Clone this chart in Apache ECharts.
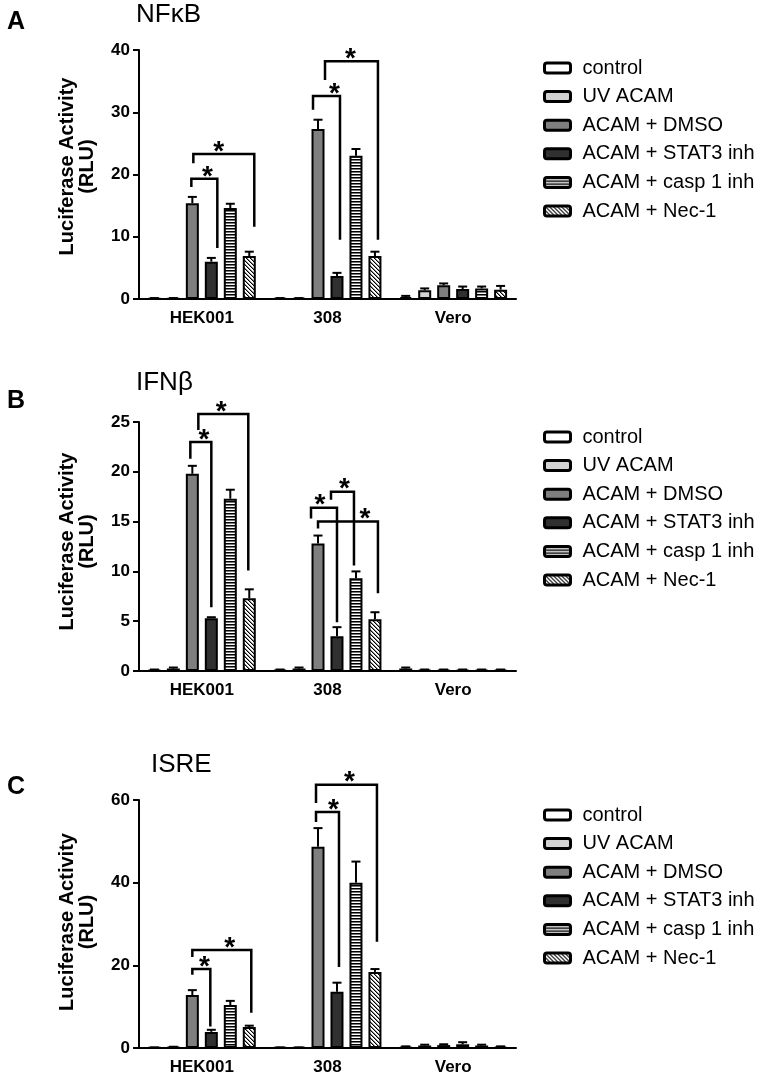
<!DOCTYPE html>
<html><head><meta charset="utf-8">
<script src="https://cdn.jsdelivr.net/npm/echarts@6/dist/echarts.min.js"></script>
<style>html,body{margin:0;padding:0;background:#fff}#chart{width:767px;height:1079px}</style>
</head><body><div id="chart"></div>
<script>
// ---------------- DATA ----------------
const categories = ['HEK001', '308', 'Vero'];
const groupNames = ['control', 'UV ACAM', 'ACAM + DMSO', 'ACAM + STAT3 inh', 'ACAM + casp 1 inh', 'ACAM + Nec-1'];
const panelTitles = ['NFκB', 'IFNβ', 'ISRE'];
const panelLetters = ['A', 'B', 'C'];
const yAxisName = 'Luciferase Activity\n(RLU)';
const yMax = [40, 25, 60];
const yStep = [10, 5, 20];

// means: one row per group, columns = categories
const nfkbMean = [
  [0.1, 0.1, 0.3],
  [0.1, 0.1, 1.4],
  [15.4, 27.3, 2.2],
  [6.0, 3.7, 1.6],
  [14.6, 23.0, 1.7],
  [6.9, 6.9, 1.5]
];
const nfkbErr = [
  [0.05, 0.05, 0.2],
  [0.05, 0.05, 0.3],
  [1.0, 1.5, 0.3],
  [0.6, 0.5, 0.4],
  [0.7, 1.1, 0.3],
  [0.7, 0.7, 0.6]
];
const ifnbMean = [
  [0.1, 0.1, 0.25],
  [0.25, 0.25, 0.1],
  [19.8, 12.8, 0.1],
  [5.3, 3.5, 0.1],
  [17.3, 9.3, 0.1],
  [7.3, 5.2, 0.1]
];
const ifnbErr = [
  [0.05, 0.05, 0.1],
  [0.1, 0.1, 0.05],
  [0.8, 0.8, 0.05],
  [0.1, 0.9, 0.05],
  [0.9, 0.7, 0.05],
  [0.9, 0.7, 0.05]
];
const isreMean = [
  [0.1, 0.1, 0.3],
  [0.2, 0.1, 0.6],
  [12.8, 48.7, 0.7],
  [3.9, 13.6, 0.9],
  [10.4, 40.0, 0.6],
  [5.1, 18.4, 0.3]
];
const isreErr = [
  [0.05, 0.05, 0.1],
  [0.1, 0.05, 0.2],
  [1.2, 4.5, 0.2],
  [0.5, 2.2, 0.5],
  [1.0, 5.1, 0.2],
  [0.3, 0.7, 0.1]
];
// significance brackets: [category, fromGroup, toGroup, leftLegEnd, bracketTop, rightLegEnd]
const nfkbBrackets = [
  [0, 2, 3, 18.0, 19.3, 8.2],
  [0, 2, 5, 21.8, 23.3, 11.6],
  [1, 2, 3, 30.4, 32.6, 9.5],
  [1, 2, 5, 35.2, 38.2, 9.5]
];
const ifnbBrackets = [
  [0, 2, 3, 21.3, 23.0, 6.4],
  [0, 2, 5, 24.2, 25.8, 10.1],
  [1, 2, 3, 15.3, 16.4, 4.9],
  [1, 3, 4, 17.2, 18.0, 10.6],
  [1, 2, 5, 14.3, 15.0, 7.8]
];
const isreBrackets = [
  [0, 2, 3, 17.7, 19.1, 5.2],
  [0, 2, 5, 22.0, 23.7, 8.5],
  [1, 2, 3, 54.7, 57.1, 19.6],
  [1, 2, 5, 59.3, 63.7, 25.7]
];

// ---------------- LAYOUT / STYLE ----------------
const FONT = 'Arial, "Liberation Sans", Helvetica, sans-serif';
const panelMeans = [nfkbMean, ifnbMean, isreMean];
const panelErrs = [nfkbErr, ifnbErr, isreErr];
const panelBrackets = [nfkbBrackets, ifnbBrackets, isreBrackets];
// pixel nudges for bracket legs and star: [leftLegDx, rightLegDx, starDx]
const bracketNudges = [
  [[-1, 6, 3], [1, 5, -5], [-5, 3, 8], [7, 3, -1]],
  [[-2, 0, 3], [6, -1, -2], [-7, 0, -4], [-6, -2, 2], [0, 3, 17]],
  [[0, -1, 3], [0, 2, 8], [-2, 2, 6], [-2, 2, 3]]
];
const gridTops = [50, 422, 800];
const gridHeights = [249, 249, 248];
const legendTops = [58, 427, 805];
const titleTops = [2, 370, 752];
const titleLefts = [136, 136, 151];
const letterTops = [10, 389, 775];
const namePad = [16, 10, 4];
const BAR_W = 13, BAR_GAP = 0.46;
const barStep = BAR_W * (1 + BAR_GAP);
const barOffset = i => (i - 2.5) * barStep;

function stripePattern(kind) {
  const c = document.createElement('canvas');
  const ctx = c.getContext('2d');
  if (kind === 'h') {
    c.width = 4; c.height = 3;
    ctx.fillStyle = '#fff'; ctx.fillRect(0, 0, 4, 3);
    ctx.fillStyle = '#000'; ctx.fillRect(0, 0, 4, 1);
    ctx.fillStyle = '#777'; ctx.fillRect(0, 1, 4, 1);
  } else {
    c.width = 4; c.height = 4;
    ctx.fillStyle = '#fff'; ctx.fillRect(0, 0, 4, 4);
    for (let y = 0; y < 4; y++) for (let x = 0; x < 4; x++) {
      const d = ((x - y) % 4 + 4) % 4;
      if (d === 0) { ctx.fillStyle = '#000'; ctx.fillRect(x, y, 1, 1); }
      else if (d === 1) { ctx.fillStyle = '#888'; ctx.fillRect(x, y, 1, 1); }
    }
  }
  return { image: c, repeat: 'repeat' };
}
const groupFills = ['#ffffff', '#d2d2d2', '#7f7f7f', '#303030', stripePattern('h'), stripePattern('d')];

const grids = [], xAxes = [], yAxes = [], series = [], legends = [], titles = [];
for (let p = 0; p < 3; p++) {
  grids.push({ left: 139, top: gridTops[p], width: 377, height: gridHeights[p] });
  xAxes.push({
    type: 'category', gridIndex: p, data: categories,
    axisLine: { lineStyle: { color: '#000', width: 2 } },
    axisTick: { alignWithLabel: true, length: 7, lineStyle: { color: '#000', width: 2 } },
    axisLabel: { color: '#000', fontSize: 17, fontWeight: 'bold', fontFamily: FONT, margin: 11 }
  });
  yAxes.push({
    type: 'value', gridIndex: p, min: 0, max: yMax[p], interval: yStep[p],
    splitLine: { show: false },
    axisLine: { show: true, lineStyle: { color: '#000', width: 2 } },
    axisTick: { show: true, length: 6, lineStyle: { color: '#000', width: 2 } },
    axisLabel: { color: '#000', fontSize: 17, fontWeight: 'bold', fontFamily: FONT, margin: 9 },
    name: yAxisName, nameLocation: 'middle', nameGap: 42, nameRotate: 90,
    nameTextStyle: { color: '#000', fontSize: 20, fontWeight: 'bold', fontFamily: FONT, lineHeight: 20, padding: [0, 0, 0, namePad[p]] }
  });
  groupNames.forEach((name, g) => {
    series.push({
      type: 'bar', name, xAxisIndex: p, yAxisIndex: p,
      data: panelMeans[p][g],
      barWidth: BAR_W, barGap: (BAR_GAP * 100) + '%',
      itemStyle: { color: groupFills[g], borderColor: '#000', borderWidth: 2 },
      emphasis: { disabled: true }, z: 2
    });
  });
  const errData = [];
  groupNames.forEach((name, g) => categories.forEach((c, ci) => {
    errData.push([ci, g, panelMeans[p][g][ci], panelErrs[p][g][ci]]);
  }));
  series.push({
    type: 'custom', xAxisIndex: p, yAxisIndex: p, z: 3, silent: true,
    data: errData,
    renderItem(params, api) {
      const ci = api.value(0), g = api.value(1), m = api.value(2), e = api.value(3);
      const base = api.coord([ci, m]), top = api.coord([ci, m + e]);
      const x = base[0] + barOffset(g);
      return { type: 'group', children: [
        { type: 'line', shape: { x1: x, y1: base[1], x2: x, y2: top[1] }, style: { stroke: '#000', lineWidth: 2 } },
        { type: 'line', shape: { x1: x - 4.5, y1: top[1], x2: x + 4.5, y2: top[1] }, style: { stroke: '#000', lineWidth: 2 } }
      ] };
    }
  });
  const brData = panelBrackets[p].map((b, k) => b.concat(bracketNudges[p][k]));
  series.push({
    type: 'custom', xAxisIndex: p, yAxisIndex: p, z: 4, silent: true, clip: false,
    data: brData,
    renderItem(params, api) {
      const ci = api.value(0), f = api.value(1), t = api.value(2);
      const cx = api.coord([ci, 0])[0];
      const xl = cx + barOffset(f) + api.value(6);
      const xr = cx + barOffset(t) + api.value(7);
      const yl = api.coord([ci, api.value(3)])[1];
      const yt = api.coord([ci, api.value(4)])[1];
      const yr = api.coord([ci, api.value(5)])[1];
      return { type: 'group', children: [
        { type: 'polyline', shape: { points: [[xl, yl], [xl, yt], [xr, yt], [xr, yr]] },
          style: { stroke: '#000', lineWidth: 2.5, fill: 'none' } },
        { type: 'text', x: (xl + xr) / 2 + api.value(8), y: yt - 2,
          style: { text: '*', fontSize: 28, fontWeight: 'bold', fontFamily: FONT, fill: '#000', align: 'center', verticalAlign: 'middle' } }
      ] };
    }
  });
  legends.push({
    left: 543, top: legendTops[p], orient: 'vertical', data: groupNames, padding: 0,
    icon: 'roundRect', itemWidth: 26, itemHeight: 10, itemGap: 8.6,
    selectedMode: false,
    itemStyle: { borderColor: '#000', borderWidth: 3 },
    textStyle: { color: '#000', fontSize: 20, fontFamily: FONT, lineHeight: 20, padding: [0, 0, 0, 7] }
  });
  titles.push({ text: panelTitles[p], left: titleLefts[p], top: titleTops[p], padding: 0,
    textStyle: { color: '#000', fontSize: 26, fontWeight: 'normal', fontFamily: FONT, lineHeight: 26 } });
  titles.push({ text: panelLetters[p], left: 7, top: letterTops[p], padding: 0,
    textStyle: { color: '#000', fontSize: 25, fontWeight: 'bold', fontFamily: FONT, lineHeight: 25 } });
}

const chart = echarts.init(document.getElementById('chart'), null, { renderer: 'canvas' });
chart.setOption({
  animation: false,
  backgroundColor: '#fff',
  title: titles,
  legend: legends,
  grid: grids,
  xAxis: xAxes,
  yAxis: yAxes,
  series
});
</script></body></html>
